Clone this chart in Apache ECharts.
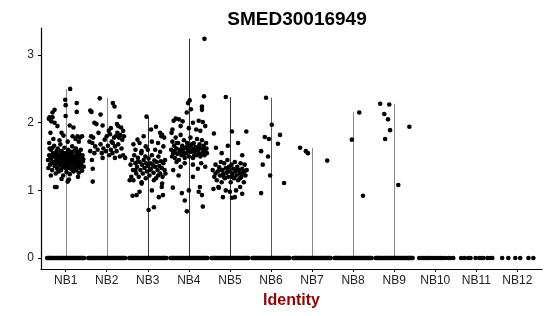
<!DOCTYPE html>
<html>
<head>
<meta charset="utf-8">
<script src="https://cdn.jsdelivr.net/npm/echarts@6/dist/echarts.min.js"></script>
<style>html,body{margin:0;padding:0;background:#fff}#c{width:550px;height:316px}</style>
</head>
<body>
<div id="c"></div>
<script>
const categories = ['NB1','NB2','NB3','NB4','NB5','NB6','NB7','NB8','NB9','NB10','NB11','NB12'];
const yTicks = [0, 1, 2, 3];
// max expression per group (height of the thin violins)
const violinMax = [2.50, 2.37, 2.09, 3.24, 2.38, 2.37, 1.63, 2.16, 2.28, 0, 0, 0];

// non-zero points per group: [jitter offset, value]
const nb1 = [[0.11,2.50],[-0.01,2.34],[0.27,2.29],[0.0,2.26],[-0.27,2.19],[-0.32,2.15],[0.27,2.16],[-0.39,2.08],[-0.32,2.08],[0.0,2.10],[-0.27,2.0],[0.19,1.93],[0.1,1.96],[-0.37,1.85],[-0.1,1.85],[-0.05,1.81],[0.29,1.80],[0.17,1.80],[-0.41,2.06],[-0.35,2.02],[-0.2,1.95],[0.35,1.78],[0.4,1.8],[0.24,1.76],[-0.3,1.76],[0.05,1.72],[-0.15,1.74],[0.32,1.72],[-0.4,1.7],
[-0.22,1.05],[-0.26,1.05],[0.05,1.13],[0.08,1.16],[-0.1,1.17],[0.3,1.2],[-0.36,1.22],
[-0.43,1.45],[-0.40,1.52],[-0.38,1.38],[-0.36,1.60],[-0.35,1.47],[-0.33,1.30],[-0.31,1.55],[-0.30,1.42],[-0.28,1.66],[-0.27,1.36],[-0.26,1.50],[-0.24,1.25],[-0.23,1.44],[-0.22,1.58],[-0.21,1.33],[-0.20,1.48],[-0.19,1.62],[-0.18,1.40],[-0.17,1.28],[-0.16,1.53],[-0.15,1.45],[-0.14,1.37],[-0.13,1.68],[-0.12,1.50],[-0.11,1.30],[-0.10,1.43],[-0.09,1.57],[-0.08,1.35],[-0.07,1.47],[-0.06,1.22],[-0.05,1.52],[-0.04,1.40],[-0.03,1.63],[-0.02,1.46],[-0.01,1.33],[0.00,1.50],[0.01,1.42],[0.02,1.27],[0.03,1.55],[0.04,1.38],[0.05,1.48],[0.06,1.60],[0.07,1.34],[0.08,1.45],[0.09,1.52],[0.10,1.24],[0.11,1.40],[0.12,1.57],[0.13,1.47],[0.14,1.31],[0.15,1.43],[0.16,1.65],[0.17,1.37],[0.18,1.50],[0.19,1.28],[0.20,1.45],[0.21,1.58],[0.22,1.35],[0.23,1.48],[0.24,1.41],[0.25,1.62],[0.26,1.30],[0.27,1.53],[0.28,1.44],[0.29,1.36],[0.30,1.57],[0.31,1.47],[0.32,1.26],[0.33,1.40],[0.34,1.52],[0.35,1.33],[0.36,1.45],[0.37,1.60],[0.38,1.38],[0.39,1.50],[0.40,1.29],[0.42,1.43],[0.44,1.35],
[-0.42,1.33],[-0.39,1.62],[-0.37,1.49],[-0.34,1.41],[-0.32,1.63],[-0.29,1.50],[-0.25,1.39],[-0.23,1.55],[-0.20,1.32],[-0.18,1.52],[-0.16,1.42],[-0.13,1.46],[-0.11,1.58],[-0.09,1.39],[-0.07,1.53],[-0.05,1.44],[-0.03,1.36],[-0.01,1.55],[0.01,1.48],[0.03,1.42],[0.05,1.33],[0.07,1.51],[0.09,1.43],[0.11,1.49],[0.13,1.38],[0.15,1.54],[0.17,1.46],[0.19,1.41],[0.21,1.50],[0.23,1.32],[0.25,1.46],[0.27,1.40],[0.29,1.48],[0.31,1.38],[0.33,1.55],[0.35,1.42],[0.37,1.49],[0.39,1.36],[0.41,1.52],[0.43,1.46]];
const nb2 = [[-0.17,2.36],[-0.37,2.16],[-0.15,2.12],[0.15,2.29],[0.19,2.24],[0.31,2.09],[-0.40,2.18],[-0.3,2.0],[-0.25,1.98],[-0.1,1.96],[0.05,1.88],[0.1,1.92],[0.25,1.98],[0.28,1.95],[0.35,1.93],[0.4,1.88],[-0.38,1.8],[-0.33,1.78],[-0.2,1.85],[-0.05,1.75],[0.0,1.8],[0.08,1.83],[0.12,1.72],[0.18,1.78],[0.22,1.8],[0.26,1.85],[0.3,1.78],[0.33,1.82],[0.38,1.75],[0.42,1.80],[-0.42,1.72],[-0.35,1.7],[-0.28,1.65],[-0.15,1.68],[-0.08,1.62],[0.03,1.66],[0.1,1.6],[0.15,1.7],[0.2,1.65],[0.28,1.68],[0.36,1.62],[-0.4,1.58],[-0.3,1.55],[-0.22,1.6],[-0.12,1.55],[-0.02,1.58],[0.06,1.52],[0.14,1.55],[0.24,1.58],[0.32,1.5],[0.4,1.52],[-0.34,1.32],[-0.34,1.13],[-0.36,1.45],[-0.1,1.48],[0.45,1.48],[0.2,1.48]];
const nb3 = [[-0.03,2.09],[0.2,1.94],[0.08,1.9],[0.3,1.85],[0.35,1.82],[0.4,1.78],[0.33,1.8],[-0.1,1.8],[-0.25,1.75],[-0.35,1.68],[-0.2,1.7],[0.1,1.72],[0.25,1.7],[0.38,1.65],[-0.05,1.65],[-0.3,1.6],[-0.15,1.58],[0.0,1.6],[0.18,1.6],[0.3,1.57],
[-0.42,1.38],[-0.38,1.45],[-0.36,1.3],[-0.33,1.52],[-0.3,1.4],[-0.28,1.25],[-0.26,1.35],[-0.24,1.48],[-0.22,1.2],[-0.2,1.42],[-0.18,1.3],[-0.16,1.55],[-0.14,1.38],[-0.12,1.25],[-0.1,1.45],[-0.08,1.33],[-0.06,1.5],[-0.04,1.4],[-0.02,1.28],[0.0,1.36],[0.02,1.47],[0.04,1.22],[0.06,1.4],[0.08,1.32],[0.1,1.52],[0.12,1.38],[0.14,1.26],[0.16,1.44],[0.18,1.35],[0.2,1.18],[0.22,1.42],[0.24,1.3],[0.26,1.5],[0.28,1.36],[0.3,1.25],[0.32,1.43],[0.34,1.33],[0.36,1.2],[0.38,1.4],[0.41,1.3],[0.43,1.25],
[-0.4,1.2],[-0.35,1.15],[-0.3,1.3],[-0.25,1.42],[-0.15,1.12],[-0.05,1.18],[0.05,1.3],[0.15,1.15],[0.25,1.22],[0.35,1.1],[0.42,1.45],
[0.02,0.71],[0.15,0.75],[-0.37,0.92],[-0.27,0.93],[-0.2,0.98],[0.27,0.9],[0.37,0.93],[0.34,1.05],[-0.15,1.1],[-0.44,1.15],[0.1,1.0]];
const nb4 = [[0.38,3.24],[0.37,2.39],[0.02,2.33],[-0.02,2.29],[0.32,2.24],[0.32,2.19],[0.05,2.2],[-0.05,2.15],[-0.32,2.06],[-0.24,2.05],[0.24,2.03],[0.34,2.01],[-0.4,1.9],[-0.37,2.03],[-0.15,2.02],[0.1,2.0],[0.4,1.95],[-0.2,1.95],[0.0,1.92],[-0.42,1.85],[0.18,1.9],[0.28,1.88],
[-0.43,1.6],[-0.4,1.72],[-0.38,1.55],[-0.36,1.66],[-0.34,1.48],[-0.32,1.78],[-0.3,1.62],[-0.28,1.54],[-0.26,1.7],[-0.24,1.45],[-0.22,1.6],[-0.2,1.82],[-0.18,1.52],[-0.16,1.66],[-0.14,1.58],[-0.12,1.74],[-0.1,1.48],[-0.08,1.63],[-0.06,1.55],[-0.04,1.7],[-0.02,1.6],[0.0,1.5],[0.02,1.66],[0.04,1.78],[0.06,1.57],[0.08,1.62],[0.1,1.48],[0.12,1.7],[0.14,1.58],[0.16,1.64],[0.18,1.52],[0.2,1.76],[0.22,1.6],[0.24,1.55],[0.26,1.68],[0.28,1.5],[0.3,1.62],[0.32,1.74],[0.34,1.56],[0.36,1.66],[0.38,1.52],[0.4,1.6],[0.42,1.7],[0.44,1.55],
[-0.41,1.5],[-0.35,1.58],[-0.29,1.7],[-0.23,1.56],[-0.17,1.62],[-0.11,1.54],[-0.05,1.64],[0.01,1.58],[0.07,1.68],[0.13,1.52],[0.19,1.6],[0.25,1.64],[0.31,1.54],[0.37,1.6],[0.43,1.62],
[-0.3,1.42],[-0.1,1.4],[0.1,1.38],[0.3,1.4],[-0.2,1.35],[0.22,1.32],[0.4,1.35],[-0.38,1.3],
[-0.39,1.04],[-0.17,0.96],[-0.1,0.85],[-0.05,0.69],[0.0,1.0],[0.24,0.98],[0.32,0.93],[0.34,0.76],[0.27,1.05],[0.1,1.2],[-0.25,1.22]];
const nb5 = [[-0.1,2.38],[0.05,1.87],[0.4,1.87],[-0.39,1.84],[-0.34,1.63],[-0.05,1.66],[0.2,1.7],[-0.2,1.55],[0.3,1.52],
[-0.42,1.3],[-0.38,1.2],[-0.35,1.38],[-0.32,1.15],[-0.3,1.28],[-0.28,1.05],[-0.26,1.34],[-0.24,1.22],[-0.22,1.42],[-0.2,1.12],[-0.18,1.3],[-0.16,1.25],[-0.14,1.4],[-0.12,1.18],[-0.1,1.33],[-0.08,1.26],[-0.06,1.45],[-0.04,1.2],[-0.02,1.35],[0.0,1.28],[0.02,1.12],[0.04,1.38],[0.06,1.25],[0.08,1.32],[0.1,1.18],[0.12,1.42],[0.14,1.28],[0.16,1.22],[0.18,1.35],[0.2,1.15],[0.22,1.3],[0.24,1.25],[0.26,1.4],[0.28,1.2],[0.3,1.32],[0.32,1.26],[0.34,1.12],[0.36,1.38],[0.38,1.22],[0.41,1.3],
[-0.25,1.3],[-0.15,1.2],[-0.05,1.3],[0.05,1.2],[0.15,1.3],[0.25,1.18],[0.35,1.28],[-0.35,1.25],
[0.05,0.89],[0.12,0.9],[-0.17,0.9],[-0.27,1.04],[0.15,1.0],[-0.1,1.0],[0.25,1.05],[-0.4,1.02],[0.0,0.98],[0.3,0.95]];
const nb6 = [[-0.12,2.37],[0.02,1.97],[0.22,1.82],[-0.15,1.79],[-0.05,1.76],[0.17,1.69],[-0.24,1.58],[-0.07,1.5],[-0.2,1.38],[-0.02,1.22],[0.32,1.11],[-0.24,0.96]];
const nb7 = [[-0.29,1.63],[-0.15,1.58],[-0.1,1.55],[0.37,1.44]];
const nb8 = [[-0.03,1.75],[0.15,2.15],[0.24,0.92]];
const nb9 = [[-0.34,2.28],[-0.12,2.27],[-0.24,2.13],[-0.15,2.05],[-0.1,1.89],[-0.22,1.76],[0.37,1.94],[0.1,1.08]];
const nb10 = [], nb11 = [], nb12 = [];
const positivePoints = [nb1, nb2, nb3, nb4, nb5, nb6, nb7, nb8, nb9, nb10, nb11, nb12];

// jitter offsets of the zero-valued cells
const zeroDense = [-0.45,-0.43,-0.41,-0.39,-0.37,-0.35,-0.33,-0.30,-0.28,-0.26,-0.23,-0.21,-0.19,-0.16,-0.14,-0.12,-0.09,-0.07,-0.05,-0.02,0.0,0.02,0.05,0.07,0.09,0.12,0.14,0.16,0.19,0.21,0.23,0.26,0.28,0.30,0.33,0.35,0.37,0.39,0.41,0.43,0.45];
const zeroNB10 = [-0.39,-0.34,-0.29,-0.25,-0.2,-0.16,-0.12,-0.05,0.0,0.07,0.12,0.17,0.24,0.32,0.37,0.44];
const zeroNB11 = [-0.37,-0.29,-0.2,-0.14,-0.02,0.07,0.12,0.17,0.27,0.33,0.39];
const zeroNB12 = [-0.37,-0.22,-0.05,0.07,0.27,0.39];
const zeroPoints = [zeroDense, zeroDense, zeroDense, zeroDense, zeroDense, zeroDense, zeroDense, zeroDense, zeroDense, zeroNB10, zeroNB11, zeroNB12];

const lineShades = ['#8a8a8a','#8a8a8a','#333','#333','#333','#555','#8a8a8a','#8a8a8a','#8a8a8a','#888','#888','#888'];

const scatterData = [];
categories.forEach((c, i) => {
  zeroPoints[i].forEach(o => scatterData.push([i + 1 + o, 0]));
  positivePoints[i].forEach(p => scatterData.push([i + 1 + p[0], p[1]]));
});
const violinData = violinMax.map((m, i) => [i + 1, m]);

const font = 'Liberation Sans, Arial, Helvetica, sans-serif';
const chart = echarts.init(document.getElementById('c'), null, {renderer: 'canvas'});
chart.setOption({
  animation: false,
  title: {
    text: 'SMED30016949', left: 292, top: 5, textAlign: 'center',
    textStyle: {fontFamily: font, fontSize: 19, fontWeight: 'bold', color: '#000'}
  },
  grid: {left: 41, right: 8, top: 28, bottom: 47, containLabel: false},
  xAxis: {
    type: 'value', min: 0.4, max: 12.6,
    name: 'Identity', nameLocation: 'middle', nameGap: 24,
    nameTextStyle: {fontFamily: font, fontSize: 16, fontWeight: 'bold', color: '#990000'},
    axisLine: {onZero: false, lineStyle: {color: '#000', width: 1.2}},
    axisTick: {show: true, length: 3, customValues: categories.map((c, i) => i + 1), lineStyle: {color: '#000'}},
    axisLabel: {customValues: categories.map((c, i) => i + 1), formatter: v => categories[Math.round(v) - 1], margin: 6, fontFamily: font, fontSize: 12, color: '#222'},
    splitLine: {show: false}
  },
  yAxis: {
    type: 'value', min: -0.162, max: 3.40,
    axisLine: {show: true, onZero: false, lineStyle: {color: '#000', width: 1.2}},
    axisTick: {show: true, length: 3, customValues: yTicks, lineStyle: {color: '#000'}},
    axisLabel: {customValues: yTicks, margin: 7, fontFamily: font, fontSize: 12, color: '#222'},
    splitLine: {show: false}
  },
  series: [
    {
      type: 'custom', data: violinData, silent: true, z: 1,
      renderItem: (params, api) => {
        const x = api.value(0), m = api.value(1);
        if (m <= 0) return null;
        const a = api.coord([x, 0]), b = api.coord([x, m]);
        return {type: 'line', shape: {x1: Math.round(a[0]) + 0.5, y1: a[1], x2: Math.round(b[0]) + 0.5, y2: b[1]},
          style: {stroke: lineShades[params.dataIndex], lineWidth: 1}};
      }
    },
    {
      type: 'scatter', data: scatterData, symbolSize: 4.6, silent: true, z: 2,
      itemStyle: {color: '#000', opacity: 1}
    }
  ]
});
</script>
</body>
</html>
